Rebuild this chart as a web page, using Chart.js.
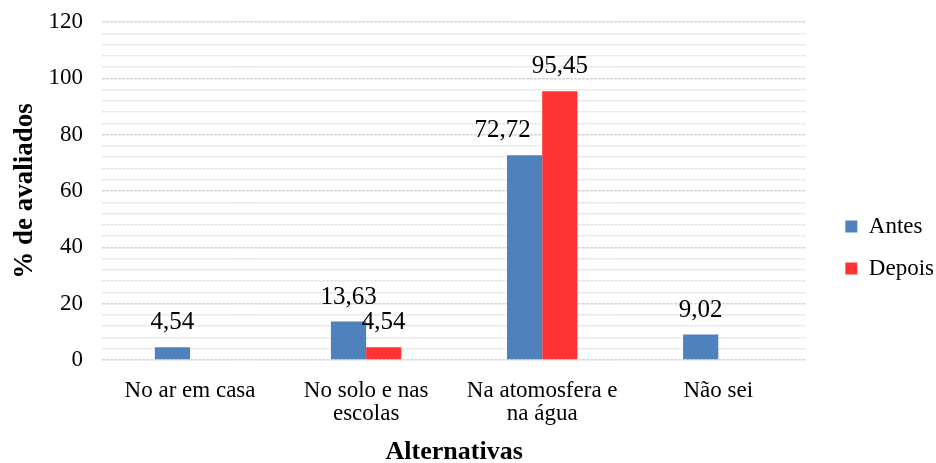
<!DOCTYPE html>
<html>
<head>
<meta charset="utf-8">
<script src="https://cdn.jsdelivr.net/npm/chart.js@4.4.1/dist/chart.umd.min.js"></script>
<style>
  html, body { margin: 0; padding: 0; background: #fff; }
  #wrap { width: 936px; height: 463px; }
</style>
</head>
<body>
<div id="wrap"><canvas id="myChart"></canvas></div>
<script>
// alternativas e percentuais antes/depois
const categorias = [
  "No ar em casa",
  ["No solo e nas", "escolas"],
  ["Na atomosfera e", "na água"],
  "Não sei"
];
const antes = [4.54, 13.63, 72.72, 9.02];
const depois = [0, 4.54, 95.45, 0];

const serif = "'Liberation Serif', 'Times New Roman', serif";

// escreve o valor em cima de cada barra (com vírgula decimal)
const valueLabels = {
  id: "valueLabels",
  afterDatasetsDraw(chart, args, opts) {
    const ctx = chart.ctx;
    ctx.save();
    ctx.font = "25px " + serif;
    ctx.fillStyle = "#000";
    ctx.textAlign = "center";
    ctx.textBaseline = "alphabetic";
    chart.data.datasets.forEach((ds, di) => {
      const meta = chart.getDatasetMeta(di);
      meta.data.forEach((bar, i) => {
        const v = ds.data[i];
        if (!v) return;
        const shift = (opts.shift[di] && opts.shift[di][i]) || 0;
        ctx.fillText(v.toFixed(2).replace(".", ","), bar.x + shift, bar.y - 18);
      });
    });
    ctx.restore();
  }
};

// desloca a legenda dentro da sua caixa (fica mais baixa e afastada do gráfico)
const legendNudge = {
  id: "legendNudge",
  afterLayout(chart, args, opts) {
    const lg = chart.legend;
    lg.left += opts.dx;
    lg.right += opts.dx;
    lg.top += opts.dy;
    lg.bottom += opts.dy;
  }
};

function renderChart() {
  const ctx = document.getElementById("myChart").getContext("2d");
  const myChart = new Chart(ctx, {
    type: "bar",
    data: {
      labels: categorias,
      datasets: [
        {
          label: "Antes",
          data: antes,
          backgroundColor: "#4f81bd",
          categoryPercentage: 0.4,
          barPercentage: 1
        },
        {
          label: "Depois",
          data: depois,
          backgroundColor: "#ff3333",
          categoryPercentage: 0.4,
          barPercentage: 1
        }
      ]
    },
    options: {
      responsive: true,
      maintainAspectRatio: false,
      animation: false,
      layout: { padding: { top: 22, right: 12, left: 0, bottom: 0 } },
      plugins: {
        legend: {
          position: "right",
          labels: {
            boxWidth: 12,
            boxHeight: 12,
            padding: 19,
            color: "#000",
            font: { family: serif, size: 23 }
          }
        },
        tooltip: { enabled: false },
        valueLabels: { shift: [[0, 0, -22, 0], [0, 0, 0, 0]] },
        legendNudge: { dx: 20, dy: 5 }
      },
      scales: {
        x: {
          grid: { display: false },
          border: { display: false },
          afterFit: (scale) => { scale.height = 103; },
          ticks: {
            color: "#000",
            font: { family: serif, size: 23, lineHeight: 1.0 },
            padding: 11
          },
          title: {
            display: true,
            text: "Alternativas",
            color: "#000",
            font: { family: serif, size: 26, weight: "bold", lineHeight: 0.8 },
            padding: { top: 0, bottom: 0 }
          }
        },
        y: {
          min: 0,
          max: 120,
          border: { display: false, dash: [3, 1] },
          afterFit: (scale) => {
            scale.width = 102;
            scale.paddingTop = 0;
          },
          grid: {
            color: (c) => (c.tick.value % 20 === 0 ? "#d4d4d4" : "#e4e4e4"),
            lineWidth: 1.5,
            drawTicks: false
          },
          ticks: {
            stepSize: 4,
            autoSkip: false,
            padding: 19,
            color: "#000",
            font: { family: serif, size: 23 },
            callback: (v) => (v % 20 === 0 ? v : "")
          },
          title: {
            display: true,
            text: "% de avaliados",
            color: "#000",
            font: { family: serif, size: 27, weight: "bold", lineHeight: 1.0 },
            padding: { top: 12, bottom: 1 }
          }
        }
      }
    },
    plugins: [valueLabels, legendNudge]
  });
}

renderChart();
</script>
</body>
</html>
